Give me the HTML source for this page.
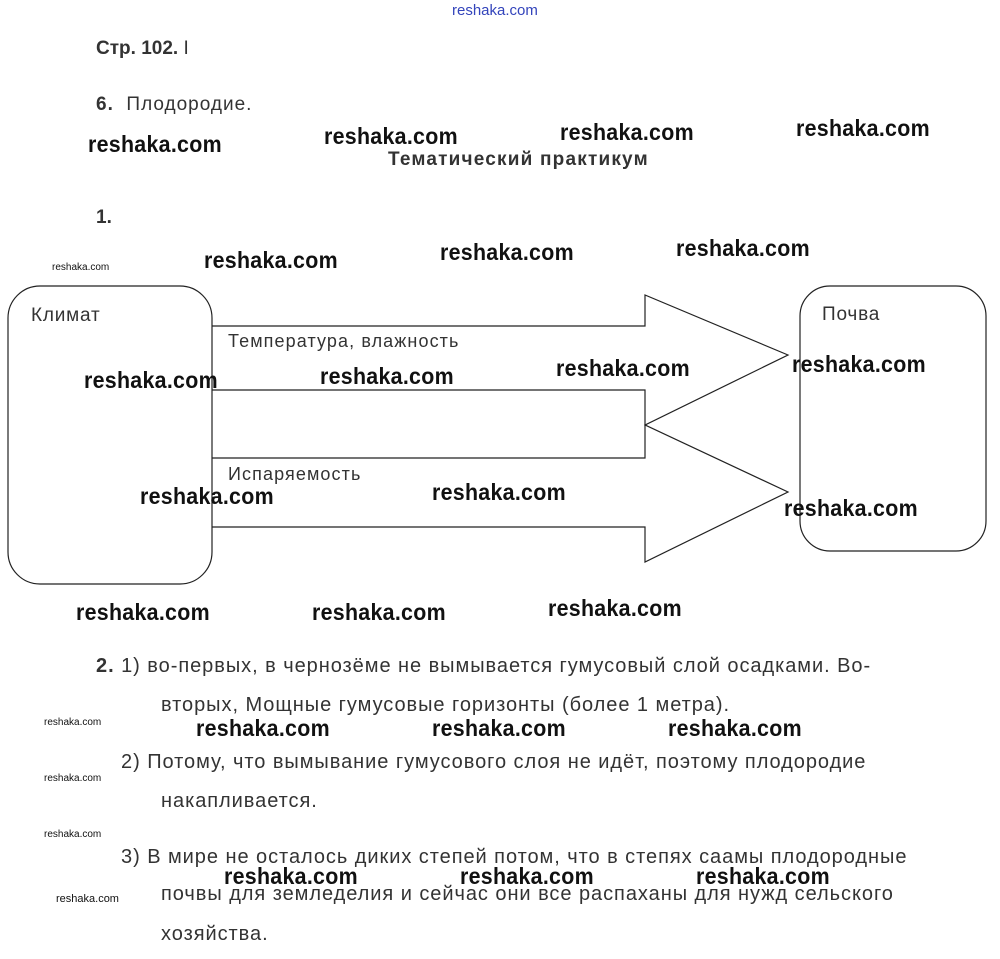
<!DOCTYPE html>
<html><head><meta charset="utf-8"><style>
body{margin:0;width:1000px;height:959px;background:#fff;position:relative;overflow:hidden;font-family:"Liberation Sans",sans-serif;color:#222}
.a{position:absolute;white-space:nowrap;line-height:1}
.w{position:absolute;white-space:nowrap;line-height:1;font-size:23px;color:#111;letter-spacing:0.3px;font-weight:bold;transform:scaleX(0.93);transform-origin:left}
.s{position:absolute;white-space:nowrap;line-height:1;font-size:10px;color:#111}
.t{position:absolute;white-space:nowrap;line-height:1;font-size:20px;color:#333;letter-spacing:0.95px}
</style></head><body>
<div class="a" style="left:452px;top:3px;font-size:15px;color:#3344bb">reshaka.com</div>
<div class="a" style="left:96px;top:39px;font-size:19px;font-weight:bold;color:#333">Стр. 102. <span style="font-weight:normal">I</span></div>
<div class="a" style="left:96px;top:95px;font-size:19px;color:#333;letter-spacing:1px"><b>6.</b>&nbsp; Плодородие.</div>
<div class="a" style="left:388px;top:150px;font-size:19px;font-weight:bold;color:#333;letter-spacing:1.2px">Тематический практикум</div>
<div class="a" style="left:96px;top:208px;font-size:19px;font-weight:bold;color:#333">1.</div>

<svg style="position:absolute;left:0;top:0" width="1000" height="959">
<g fill="none" stroke="#222" stroke-width="1.2">
<rect x="8" y="286" width="204" height="298" rx="32"/>
<rect x="800" y="286" width="186" height="265" rx="30"/>
<polyline points="212,326 645,326 645,295 788,355 645,425 645,390 212,390"/>
<polyline points="212,458 645,458 645,425 788,492 645,562 645,527 212,527"/>
</g>
</svg>
<div class="a" style="left:31px;top:306px;font-size:19px;color:#333;letter-spacing:0.8px">Климат</div>
<div class="a" style="left:822px;top:305px;font-size:19px;color:#333;letter-spacing:0.8px">Почва</div>
<div class="a" style="left:228px;top:332px;font-size:18px;color:#333;letter-spacing:1.1px">Температура, влажность</div>
<div class="a" style="left:228px;top:465px;font-size:18px;color:#333;letter-spacing:1.1px">Испаряемость</div>

<div class="t" style="left:96px;top:656px"><b>2.</b> 1) во-первых, в чернозёме не вымывается гумусовый слой осадками. Во-</div>
<div class="t" style="left:161px;top:695px">вторых, Мощные гумусовые горизонты (более 1 метра).</div>
<div class="t" style="left:121px;top:752px">2) Потому, что вымывание гумусового слоя не идёт, поэтому плодородие</div>
<div class="t" style="left:161px;top:791px">накапливается.</div>
<div class="t" style="left:121px;top:847px">3) В мире не осталось диких степей потом, что в степях саамы плодородные</div>
<div class="t" style="left:161px;top:884px">почвы для земледелия и сейчас они все распаханы для нужд сельского</div>
<div class="t" style="left:161px;top:924px">хозяйства.</div>

<div class="s" style="left:52px;top:263px">reshaka.com</div>
<div class="s" style="left:44px;top:718px">reshaka.com</div>
<div class="s" style="left:44px;top:774px">reshaka.com</div>
<div class="s" style="left:44px;top:830px">reshaka.com</div>
<div class="s" style="left:56px;top:894px;font-size:11px">reshaka.com</div>

<div class="w" style="left:88px;top:133px">reshaka.com</div>
<div class="w" style="left:324px;top:125px">reshaka.com</div>
<div class="w" style="left:560px;top:121px">reshaka.com</div>
<div class="w" style="left:796px;top:117px">reshaka.com</div>
<div class="w" style="left:204px;top:249px">reshaka.com</div>
<div class="w" style="left:440px;top:241px">reshaka.com</div>
<div class="w" style="left:676px;top:237px">reshaka.com</div>
<div class="w" style="left:84px;top:369px">reshaka.com</div>
<div class="w" style="left:320px;top:365px">reshaka.com</div>
<div class="w" style="left:556px;top:357px">reshaka.com</div>
<div class="w" style="left:792px;top:353px">reshaka.com</div>
<div class="w" style="left:140px;top:485px">reshaka.com</div>
<div class="w" style="left:432px;top:481px">reshaka.com</div>
<div class="w" style="left:784px;top:497px">reshaka.com</div>
<div class="w" style="left:76px;top:601px">reshaka.com</div>
<div class="w" style="left:312px;top:601px">reshaka.com</div>
<div class="w" style="left:548px;top:597px">reshaka.com</div>
<div class="w" style="left:196px;top:717px">reshaka.com</div>
<div class="w" style="left:432px;top:717px">reshaka.com</div>
<div class="w" style="left:668px;top:717px">reshaka.com</div>
<div class="w" style="left:224px;top:865px">reshaka.com</div>
<div class="w" style="left:460px;top:865px">reshaka.com</div>
<div class="w" style="left:696px;top:865px">reshaka.com</div>
</body></html>
